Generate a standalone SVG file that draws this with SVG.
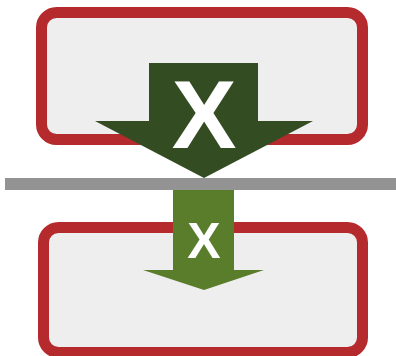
<svg xmlns="http://www.w3.org/2000/svg" width="396" height="356" viewBox="0 0 396 356">
<style>
.box{fill:#eeeeee;stroke:#b52b2d;stroke-width:11}
.lbl{font-family:"Liberation Sans",Arial,sans-serif;font-weight:bold;fill:#ffffff;text-anchor:middle}
</style>
<rect width="396" height="356" fill="#ffffff"/>
<g id="top-box"><rect class="box" x="41.5" y="12.5" width="321" height="127" rx="15"/></g>
<g id="bottom-box"><rect class="box" x="43.5" y="227.5" width="319" height="125" rx="15"/></g>
<g id="barrier"><rect x="5" y="178" width="391" height="12" fill="#939393"/></g>
<g id="connectors">
<g id="arrow-big">
<polygon points="149,63 258,63 258,121 313,121 204,178 95,121 149,121" fill="#344c22"/>
<text class="lbl" x="204" y="148" font-size="97">X</text>
</g>
<g id="arrow-small">
<polygon points="173,190 234,190 234,270 264,270 204,290 143,270 173,270" fill="#5a7d2c"/>
<text class="lbl" x="204" y="258" font-size="50">X</text>
</g>
</g>
</svg>
